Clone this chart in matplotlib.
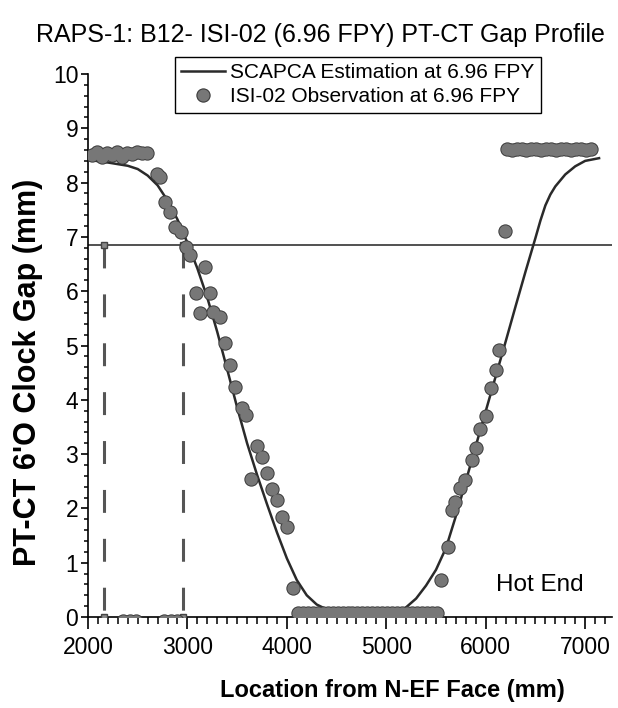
import matplotlib
matplotlib.use("Agg")
import matplotlib.pyplot as plt
from matplotlib.lines import Line2D
from matplotlib.ticker import MultipleLocator

plt.rcParams['font.family'] = ['Liberation Sans', 'DejaVu Sans']

title = "RAPS-1: B12- ISI-02 (6.96 FPY) PT-CT Gap Profile"
line_label = "SCAPCA Estimation at 6.96 FPY"
obs_label = "ISI-02 Observation at 6.96 FPY"

# SCAPCA estimated gap profile
scapca_x = [2000, 2200, 2400, 2500, 2600, 2700, 2800, 2900, 3000, 3100, 3200, 3300,
            3400, 3500, 3600, 3700, 3800, 3900, 4000, 4100, 4200, 4300, 4400, 4500,
            5000, 5100, 5150, 5200, 5300, 5400, 5500, 5600, 5700, 5800, 5900, 6000,
            6100, 6200, 6300, 6400, 6500, 6550, 6600, 6650, 6700, 6800, 6900, 7000, 7140]
scapca_y = [8.42, 8.37, 8.31, 8.25, 8.13, 7.95, 7.67, 7.32, 6.89, 6.42, 5.88, 5.25,
            4.56, 3.86, 3.20, 2.62, 2.08, 1.56, 1.08, 0.68, 0.40, 0.23, 0.14, 0.10,
            0.10, 0.10, 0.12, 0.18, 0.34, 0.58, 0.87, 1.27, 1.86, 2.50, 3.15, 3.79,
            4.43, 5.07, 5.72, 6.36, 6.98, 7.30, 7.58, 7.78, 7.93, 8.15, 8.30, 8.40, 8.45]

# ISI-02 observations, individual points
obs_x = [2690, 2720, 2772, 2822, 2873, 2940, 2990, 3024, 3181, 3091, 3225, 3125,
         3259, 3326, 3376, 3427, 3477, 3544, 3594, 3695, 3745, 3638, 3796, 3846,
         3896, 3947, 3997, 4064, 5552, 5618, 5659, 5693, 5743, 5793, 5860, 5900,
         5945, 6001, 6055, 6102, 6129, 6196]
obs_y = [8.15, 8.10, 7.65, 7.46, 7.19, 7.09, 6.82, 6.67, 6.45, 5.96, 5.96, 5.59,
         5.62, 5.53, 5.05, 4.64, 4.24, 3.84, 3.72, 3.14, 2.94, 2.54, 2.65, 2.35,
         2.15, 1.85, 1.66, 0.53, 0.68, 1.29, 1.97, 2.12, 2.37, 2.52, 2.89, 3.11,
         3.47, 3.70, 4.21, 4.55, 4.92, 7.10]

# dense runs of observations (cold end, middle, hot end)
cold_x = [2040, 2090, 2140, 2190, 2240, 2290, 2340, 2390, 2440, 2490, 2540, 2590]
cold_y = [8.50, 8.56, 8.47, 8.55, 8.50, 8.56, 8.48, 8.55, 8.52, 8.56, 8.54, 8.55]
mid_x = [4110, 4160, 4210, 4260, 4310, 4360, 4410, 4460, 4510, 4560, 4610, 4660,
         4710, 4760, 4810, 4860, 4910, 4960, 5010, 5060, 5110, 5160, 5210, 5260,
         5310, 5360, 5410, 5460, 5510]
mid_y = [0.08] * len(mid_x)
hot_x = [6210, 6260, 6310, 6360, 6410, 6460, 6510, 6560, 6610, 6660, 6710, 6760,
         6810, 6860, 6910, 6960, 7010, 7060]
hot_y = [8.61, 8.60, 8.62, 8.61, 8.60, 8.62, 8.61, 8.60, 8.62, 8.61, 8.60, 8.62,
         8.61, 8.60, 8.62, 8.61, 8.60, 8.61]
low_x = [2350, 2420, 2480, 2760, 2830, 2900]
low_y = [-0.08, -0.08, -0.08, -0.08, -0.08, -0.08]

limit_gap = 6.85
ref_x = [2160, 2955]

FILL = '#777777'
EDGE = '#3a3a3a'


def blobs(ax, x, y):
    # outline layer first, then fill on top so overlapping dots merge
    ax.plot(x, y, ls='none', marker='o', ms=10.3, mfc=EDGE, mec='none', zorder=5)
    ax.plot(x, y, ls='none', marker='o', ms=8.9, mfc=FILL, mec='none', zorder=6)


fig = plt.figure(figsize=(6.18, 7.08), dpi=100)
ax = fig.add_axes([88/618, 1-617/708, (612-88)/618, (617-74)/708])

ax.axhline(limit_gap, color='#222222', lw=1.1, zorder=2)
for xv in ref_x:
    ax.plot([xv, xv], [limit_gap, 0], color='#555555', lw=2.2, dashes=(7.5, 8.5), zorder=3)
    ax.plot([xv, xv], [limit_gap, 0], ls='none', marker='s', ms=5,
            mfc='#888888', mec='#444444', zorder=4)

line, = ax.plot(scapca_x, scapca_y, color='#2a2a2a', lw=1.8, zorder=3, label=line_label)

blobs(ax, obs_x, obs_y)
blobs(ax, cold_x, cold_y)
blobs(ax, mid_x, mid_y)
blobs(ax, hot_x, hot_y)
blobs(ax, low_x, low_y)
pts = Line2D([], [], ls='none', marker='o', ms=9.5, mfc=FILL, mec=EDGE, mew=0.8,
             label=obs_label)

ax.set_xlim(2000, 7270)
ax.set_ylim(0, 10)
ax.xaxis.set_major_locator(MultipleLocator(1000))
ax.xaxis.set_minor_locator(MultipleLocator(100))
ax.yaxis.set_major_locator(MultipleLocator(1))
ax.yaxis.set_minor_locator(MultipleLocator(0.2))
ax.tick_params(axis='x', which='major', direction='out', length=8.5, width=1.2,
               labelsize=16.5, pad=5)
ax.tick_params(axis='x', which='minor', direction='out', length=5, width=1.1)
ax.tick_params(axis='y', which='major', direction='out', length=5, width=1.2,
               labelsize=16.5, pad=2)
ax.tick_params(axis='y', which='minor', direction='out', length=3, width=1.1)
for s in ['top', 'right']:
    ax.spines[s].set_visible(False)
for s in ['left', 'bottom']:
    ax.spines[s].set_linewidth(1.2)

ax.text(6542, 0.59, "Hot End", ha='center', va='center', fontsize=17.5)

fig.text(320/618, 1-35/708, title, ha='center', va='center', fontsize=18)
fig.text(28/618, 1-372/708, "PT-CT 6'O Clock Gap (mm)", rotation=90, ha='center',
         va='center', fontsize=22, fontweight='bold')
fig.text(392/618, 1-690/708, "Location from N-EF Face (mm)", ha='center', va='center',
         fontsize=17, fontweight='bold')

leg = fig.legend(handles=[line, pts], loc='upper left', bbox_to_anchor=(175/618, 1-57/708),
                 frameon=True, fancybox=False, edgecolor='black', framealpha=1,
                 fontsize=15, handlelength=2.1, handletextpad=0.25, labelspacing=0.25,
                 borderpad=0.3, borderaxespad=0)
leg.get_frame().set_linewidth(1.0)

fig.savefig('out.png', dpi=100)
